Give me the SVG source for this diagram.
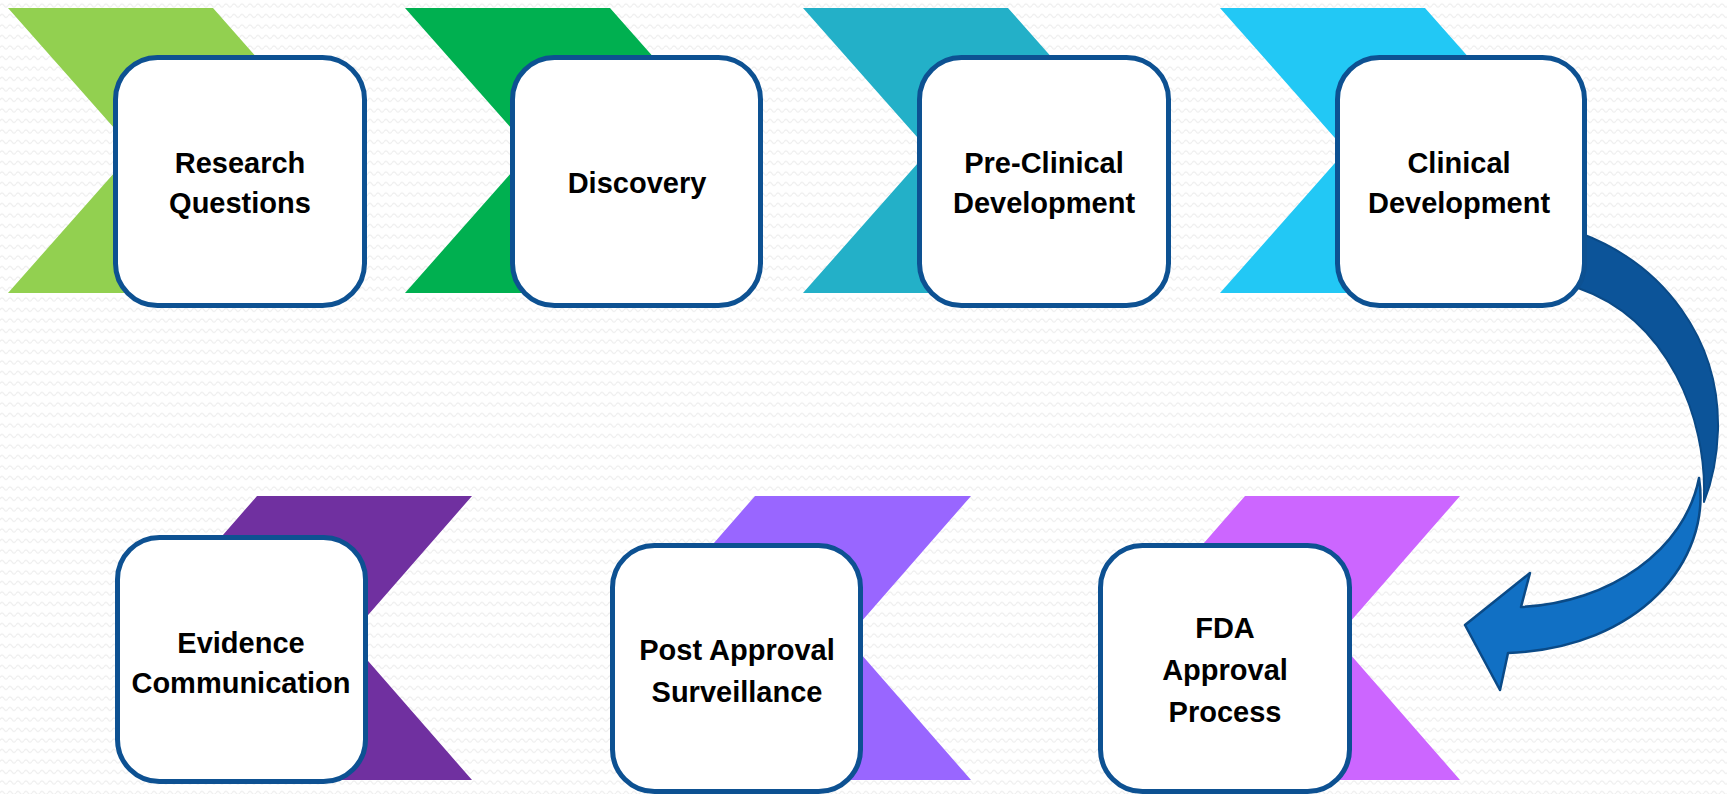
<svg xmlns="http://www.w3.org/2000/svg" width="1727" height="794" viewBox="0 0 1727 794">
<style>
.box{fill:#ffffff;stroke:#0d5192;stroke-width:5}
.lbl{font-family:"Liberation Sans",Arial,sans-serif;font-weight:bold;font-size:29px;fill:#000000;text-anchor:middle}
</style>
<defs>
<pattern id="wave" x="0" y="0" width="8" height="10.5" patternUnits="userSpaceOnUse">
<path d="M0,5.5 Q2,2.5 4,5.5 T8,5.5" fill="none" stroke="#ececec" stroke-width="1.2"/>
</pattern>
</defs>
<rect x="0" y="0" width="1727" height="794" fill="#ffffff"/>
<rect x="0" y="0" width="1727" height="794" fill="url(#wave)"/>

<g id="connectors">
<path d="M1580,233 C1665,265 1720,340 1718,430 C1717,460 1712,482 1704,502 L1704,495 C1706,420 1670,320 1578,288 Z" fill="#0c5499" stroke="#0a4a87" stroke-width="2" stroke-linejoin="round"/>
<path d="M1699,478 C1712,560 1640,648 1508,653 L1500,690 L1465,625 L1530,573 L1521,607 C1610,603 1685,550 1699,478 Z" fill="#1170c4" stroke="#0a4a87" stroke-width="2.5" stroke-linejoin="round"/>
</g>

<g id="node-research">
<polygon points="8,8 213,8 339,150.5 213,293 8,293 134,150.5" fill="#92d050"/>
<rect class="box" x="115.5" y="57.5" width="249" height="248" rx="42"/>
<text class="lbl" x="240" y="173">Research</text>
<text class="lbl" x="240" y="213">Questions</text>
</g>

<g id="node-discovery">
<polygon points="405,8 610,8 736,150.5 610,293 405,293 531,150.5" fill="#00b050"/>
<rect class="box" x="512.5" y="57.5" width="248" height="248" rx="42"/>
<text class="lbl" x="637" y="193">Discovery</text>
</g>

<g id="node-preclinical">
<polygon points="803,8 1008,8 1134,150.5 1008,293 803,293 929,150.5" fill="#23b0c8"/>
<rect class="box" x="919.5" y="57.5" width="249" height="248" rx="42"/>
<text class="lbl" x="1044" y="173">Pre-Clinical</text>
<text class="lbl" x="1044" y="213">Development</text>
</g>

<g id="node-clinical">
<polygon points="1220,8 1425,8 1551,150.5 1425,293 1220,293 1346,150.5" fill="#22c8f5"/>
<rect class="box" x="1337.5" y="57.5" width="247" height="248" rx="42"/>
<text class="lbl" x="1459" y="173">Clinical</text>
<text class="lbl" x="1459" y="213">Development</text>
</g>

<g id="node-evidence">
<polygon points="257,496 472,496 348,638 472,780 257,780 133,638" fill="#7030a0"/>
<rect class="box" x="117.5" y="537.5" width="248" height="244" rx="42"/>
<text class="lbl" x="241" y="653">Evidence</text>
<text class="lbl" x="241" y="693">Communication</text>
</g>

<g id="node-post">
<polygon points="755,496 971,496 847,638 971,780 755,780 631,638" fill="#9966ff"/>
<rect class="box" x="612.5" y="545.5" width="248" height="246" rx="42"/>
<text class="lbl" x="737" y="660">Post Approval</text>
<text class="lbl" x="737" y="702">Surveillance</text>
</g>

<g id="node-fda">
<polygon points="1245,496 1460,496 1336,638 1460,780 1245,780 1121,638" fill="#cc66ff"/>
<rect class="box" x="1100.5" y="545.5" width="249" height="246" rx="42"/>
<text class="lbl" x="1225" y="638">FDA</text>
<text class="lbl" x="1225" y="680">Approval</text>
<text class="lbl" x="1225" y="722">Process</text>
</g>
</svg>
